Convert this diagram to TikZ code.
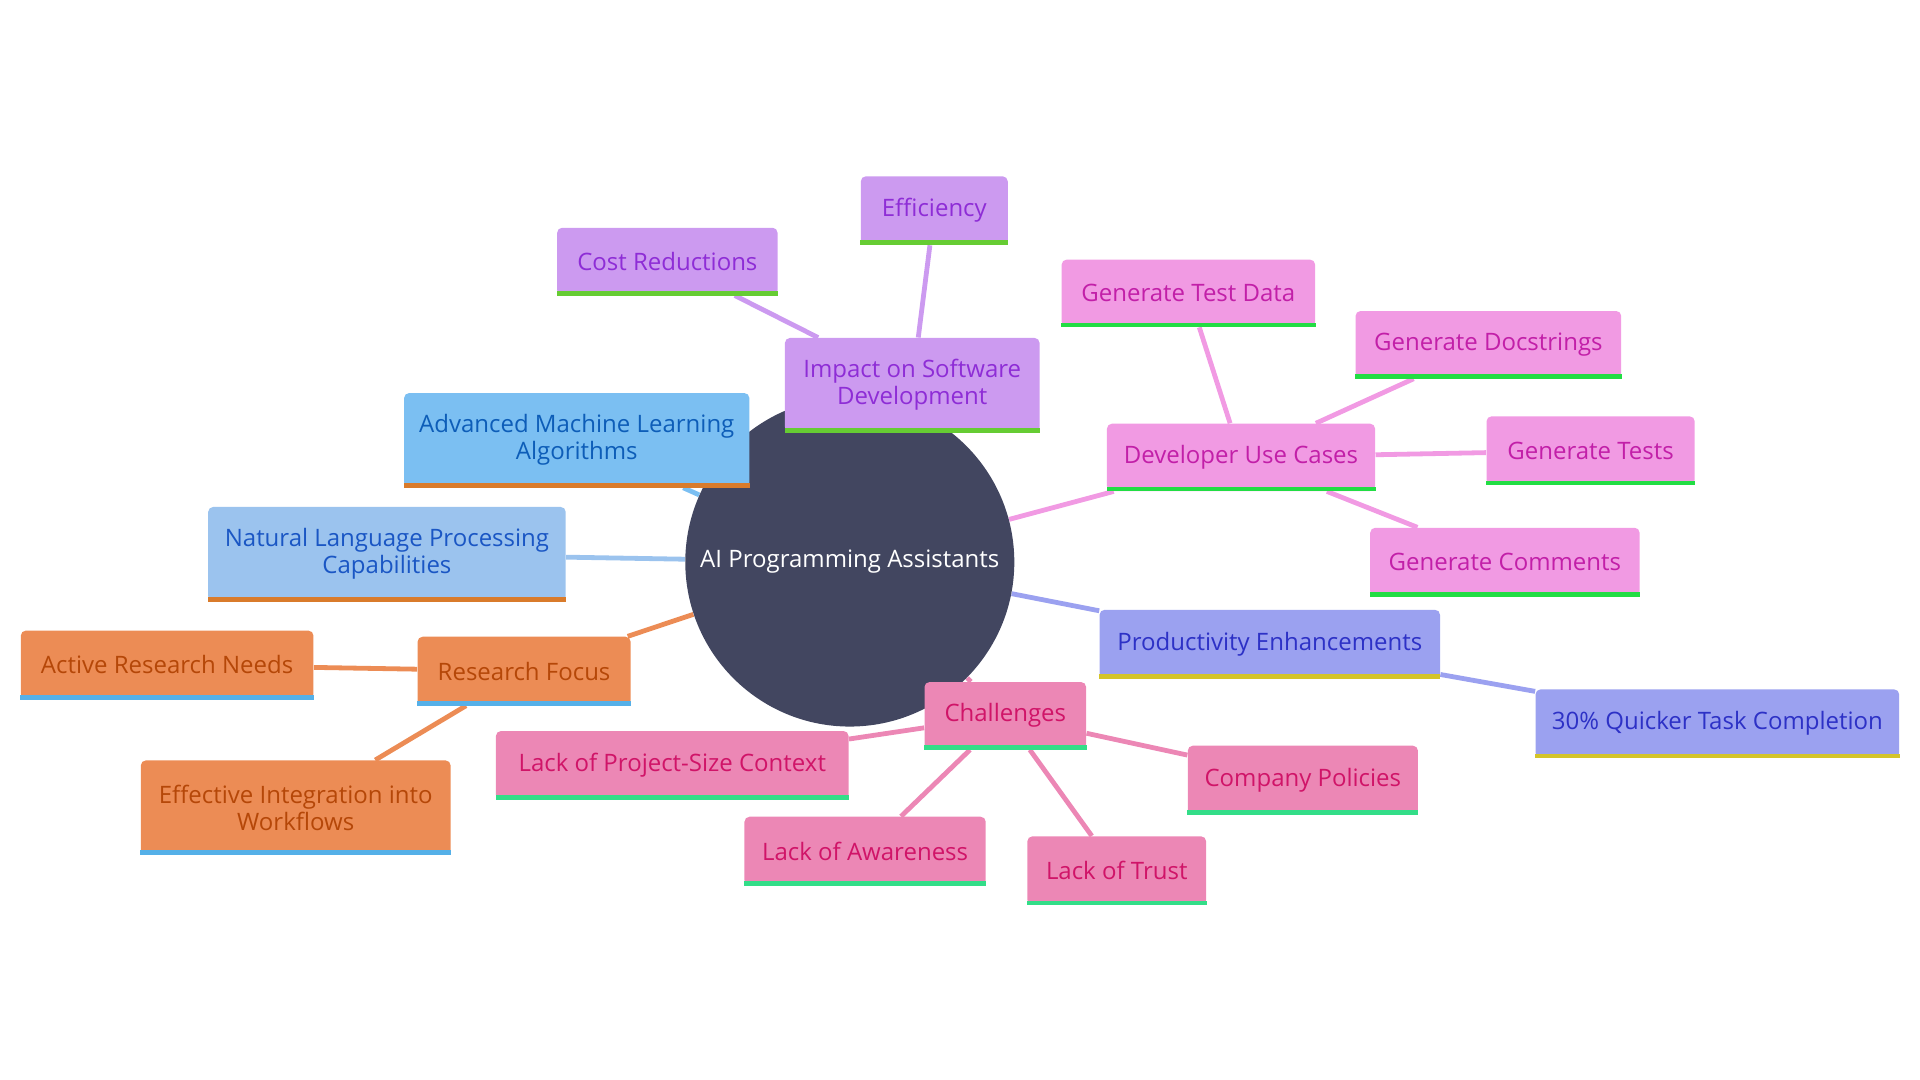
\documentclass[tikz,border=0pt]{standalone}
\usepackage{fontspec}
\setmainfont{Open Sans}
\usetikzlibrary{backgrounds}
\definecolor{centerfill}{HTML}{424660}
\definecolor{purfill}{HTML}{CC9AF0}\definecolor{purtext}{HTML}{8E2DD6}\definecolor{purbar}{HTML}{66CC33}
\definecolor{pinkfill}{HTML}{F19AE3}\definecolor{pinktext}{HTML}{C21FA8}\definecolor{pinkbar}{HTML}{22DD44}
\definecolor{amlfill}{HTML}{7BBFF2}\definecolor{amltext}{HTML}{0D5DB8}\definecolor{amlbar}{HTML}{D97B2B}
\definecolor{nlpfill}{HTML}{9BC3EE}\definecolor{nlptext}{HTML}{1A56C4}\definecolor{nlpbar}{HTML}{D97B2B}
\definecolor{prodfill}{HTML}{9BA1F0}\definecolor{prodtext}{HTML}{2D31C6}\definecolor{prodbar}{HTML}{D4C42A}
\definecolor{chalfill}{HTML}{EC87B5}\definecolor{chaltext}{HTML}{D01468}\definecolor{chalbar}{HTML}{33DD88}
\definecolor{resfill}{HTML}{EC8C55}\definecolor{restext}{HTML}{B54708}\definecolor{resbar}{HTML}{55B0E8}
\tikzset{
  box/.style={rounded corners=2.5pt, inner sep=0pt, align=center, font=\fontsize{12}{13.5}\selectfont},
  purbox/.style={box, fill=purfill, text=purtext},
  pinkbox/.style={box, fill=pinkfill, text=pinktext},
  amlbox/.style={box, fill=amlfill, text=amltext},
  nlpbox/.style={box, fill=nlpfill, text=nlptext},
  prodbox/.style={box, fill=prodfill, text=prodtext},
  chalbox/.style={box, fill=chalfill, text=chaltext},
  resbox/.style={box, fill=resfill, text=restext},
  edge/.style={line width=2.4pt},
}
\newcommand\mmnode[7]{%
  \node[#2box, minimum width={(#5-#3)*0.6122pt}, minimum height={(#6-#4)*0.6122pt}]
    (#1) at ({(#3+#5)/2},{(#4+#6)/2}) {#7};
  \fill[#2bar] ([yshift=2.4pt]#1.south west) rectangle (#1.south east);}
\begin{document}
\begin{tikzpicture}[x=0.6122pt,y=-0.6122pt]
\useasboundingbox (0,0) rectangle (1568,882);
\node[circle, fill=centerfill, minimum size=164.5pt, inner sep=0pt, text=white,
      font=\fontsize{12}{14}\selectfont] (c) at (694,459) {AI Programming Assistants};
\mmnode{eff}{pur}{703}{144}{823}{200}{Efficiency}
\mmnode{cost}{pur}{455}{186}{635}{241}{Cost Reductions}
\mmnode{imp}{pur}{641}{276}{849}{353}{Impact on Software\\Development}
\mmnode{gtd}{pink}{867}{212}{1074}{267}{Generate Test Data}
\mmnode{gds}{pink}{1107}{254}{1324}{309}{Generate Docstrings}
\mmnode{dev}{pink}{904}{346}{1123}{401}{Developer Use Cases}
\mmnode{gt}{pink}{1214}{340}{1384}{396}{Generate Tests}
\mmnode{gc}{pink}{1119}{431}{1339}{487}{Generate Comments}
\mmnode{aml}{aml}{330}{321}{612}{398}{Advanced Machine Learning\\Algorithms}
\mmnode{nlp}{nlp}{170}{414}{462}{491}{Natural Language Processing\\Capabilities}
\mmnode{prod}{prod}{898}{498}{1176}{554}{Productivity Enhancements}
\mmnode{quick}{prod}{1254}{563}{1551}{619}{30\% Quicker Task Completion}
\mmnode{arn}{res}{17}{515}{256}{571}{Active Research Needs}
\mmnode{res}{res}{341}{520}{515}{576}{Research Focus}
\mmnode{eiw}{res}{115}{621}{368}{698}{Effective Integration into\\Workflows}
\mmnode{chal}{chal}{755}{557}{887}{612}{Challenges}
\mmnode{lpc}{chal}{405}{597}{693}{653}{Lack of Project-Size Context}
\mmnode{cp}{chal}{970}{609}{1158}{665}{Company Policies}
\mmnode{la}{chal}{608}{667}{805}{723}{Lack of Awareness}
\mmnode{lt}{chal}{839}{683}{985}{739}{Lack of Trust}
\begin{scope}[on background layer]
\draw[edge, purfill] (c) -- (imp) (imp) -- (eff) (imp) -- (cost);
\draw[edge, pinkfill] (c) -- (dev) (dev) -- (gtd) (dev) -- (gds) (dev) -- (gt) (dev) -- (gc);
\draw[edge, amlfill] (c) -- (aml);
\draw[edge, nlpfill] (c) -- (nlp);
\draw[edge, prodfill] (c) -- (prod) (prod) -- (quick);
\draw[edge, resfill] (c) -- (res) (res) -- (arn) (res) -- (eiw);
\draw[edge, chalfill] (c) -- (chal) (chal) -- (lpc) (chal) -- (cp) (chal) -- (la) (chal) -- (lt);
\end{scope}
\end{tikzpicture}
\end{document}
